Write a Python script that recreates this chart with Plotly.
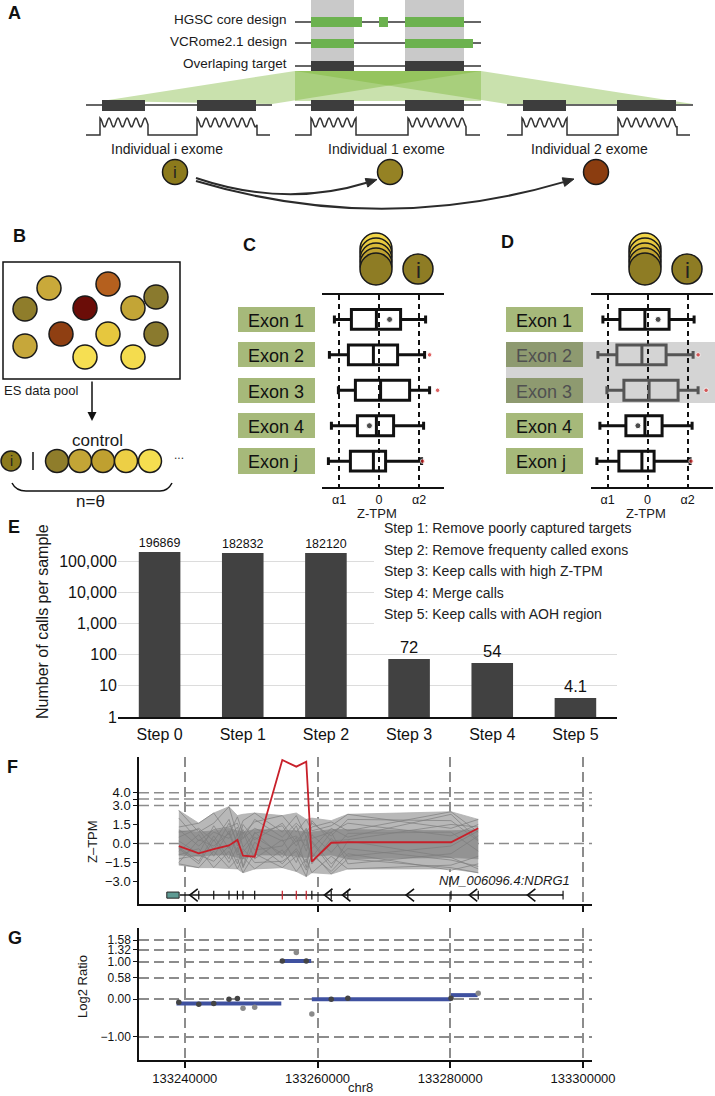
import math
import plotly.graph_objects as go

W, H = 715, 1096
FONT = "Liberation Sans, Arial, Helvetica, sans-serif"

# ---------------- Panel E data ----------------
e_steps = ["Step 0", "Step 1", "Step 2", "Step 3", "Step 4", "Step 5"]
e_calls = [196869, 182832, 182120, 72, 54, 4.1]
e_labels = ["196869", "182832", "182120", "72", "54", "4.1"]
e_tickvals = [1, 10, 100, 1000, 10000, 100000, 1000000]
e_ticktext = ["1", "10", "100", "1,000", "10,000", "100,000", ""]
e_legend = ["Step 1: Remove poorly captured targets",
            "Step 2: Remove frequenty called exons",
            "Step 3: Keep calls with high Z-TPM",
            "Step 4: Merge calls",
            "Step 5: Keep calls with AOH region"]

# ---------------- Panels C / D data ----------------
exon_names = ["Exon 1", "Exon 2", "Exon 3", "Exon 4", "Exon j"]
box_low = [-2.23, -2.48, -2.03, -2.38, -2.53]
box_q1 = [-1.38, -1.53, -1.18, -1.08, -1.43]
box_med = [-0.13, -0.28, 0.08, -0.13, -0.28]
box_q3 = [1.08, 0.93, 1.53, 0.73, 0.33]
box_high = [2.33, 2.28, 2.53, 2.23, 2.13]
sample_i = [0.53, 2.53, 2.93, -0.48, 2.18]
alpha_vals = [-2, 0, 2]
alpha_text = ["α1", "0", "α2"]
alpha2 = 2

# ---------------- Panel F data ----------------
exon_pos = [133239100, 133242105, 133244360, 133246660, 133247925, 133248770, 133250530,
            133254690, 133256800, 133258300, 133259140, 133262060, 133264560, 133280110, 133284210]
red_z = [-0.2, -0.77, -0.45, -0.15, 0.28, -0.96, -1.04, 6.57, 6.05, 6.44, -1.43, 0.06, 0.1, 0.1, 1.2]
gray_hi = [2.6, 1.6, 2.4, 2.9, 2.2, 2.3, 2.4, 2.2, 2.4, 1.9, 2.0, 1.8, 2.3, 2.5, 1.9]
gray_lo = [-1.7, -1.9, -1.9, -2.0, -2.0, -2.3, -2.0, -1.9, -2.2, -2.6, -2.3, -2.4, -2.0, -2.0, -2.3]
dense_hi = [1.0, 0.9, 1.0, 1.2, 1.0, 0.9, 1.1, 1.0, 1.0, 0.9, 0.9, 1.1, 1.1, 1.0, 1.1]
dense_lo = [-0.9, -1.0, -0.9, -0.9, -1.1, -1.2, -0.9, -0.9, -1.0, -1.1, -1.0, -0.9, -1.2, -1.1, -1.2]
gray_lines = [
    [2.6, 0.9, 1.6, 2.9, 0.6, 1.8, 2.4, 0.9, 2.2, 0.5, 1.3, 1.7, 1.0, 2.5, 0.9],
    [-1.6, -1.9, -0.6, -1.9, -1.2, -2.3, -0.8, -1.9, -1.0, -2.6, -0.7, -2.4, -1.2, -1.9, -2.3],
    [1.3, 1.6, 2.4, 0.7, 2.1, 0.8, 1.7, 2.2, 0.9, 1.9, 1.0, 1.4, 2.3, 1.2, 1.9],
    [-0.9, -0.4, -1.9, -0.6, -2.0, -1.1, -2.0, -0.5, -2.2, -1.2, -2.3, -1.0, -2.0, -1.7, -1.0],
    [0.5, 1.2, 0.2, 1.9, -0.2, 1.5, 0.3, 1.6, 0.1, 1.2, 0.4, 0.9, 1.6, 0.6, 1.5],
    [-0.3, -1.4, 0.6, -1.2, 0.8, -1.8, 0.9, -1.1, 0.5, -1.9, 0.2, -1.6, -0.4, -1.3, -1.8],
    [2.0, 0.2, 1.1, 1.3, 1.6, 0.4, 1.9, 0.5, 1.6, 0.8, 1.6, 0.6, 1.9, 1.8, 0.2],
    [-1.2, -0.9, -1.4, -0.2, -1.6, -0.4, -1.5, -1.4, -0.6, -2.1, -0.9, -2.2, -0.8, -2.1, -1.6],
    [1.1, -0.2, 0.9, 0.4, 1.3, -0.3, 0.8, 1.4, -0.2, 1.1, -0.4, 1.2, 0.5, 2.3, 0.3],
    [-0.6, 0.7, -1.0, 1.0, -0.7, 0.9, -1.2, 0.3, -1.5, 0.6, -1.6, 0.4, -1.0, -0.2, 1.0],
    [0.2, -0.8, 1.4, -0.4, 0.3, 1.1, -0.5, -0.2, 1.4, -0.6, 0.7, -0.7, 0.8, 0.9, -0.6],
    [-1.5, 0.3, -0.2, 0.8, -0.9, -0.7, 0.5, -0.8, 0.2, 0.3, -1.1, 0.9, -1.6, -0.8, 0.6],
    [0.9, 1.1, -0.5, 1.6, 0.1, 0.4, 1.2, 0.2, 0.6, -0.2, 1.8, 0.2, 0.3, 1.5, 1.3],
    [-0.4, -1.6, 0.3, -1.5, -0.3, -1.9, 0.1, -1.6, -0.4, -1.5, 0.1, -1.9, 0.2, -1.1, -2.0],
]
f_thresholds = [4.0, 3.5, 3.0, 0.0]
f_yticks = [-3.0, -1.5, 0.0, 1.5, 3.0, 3.5, 4.0]
f_yticktext = ["−3.0", "−1.5", "0.0", "1.5", "3.0", "", "4.0"]
chr_ticks = [133240000, 133260000, 133280000, 133300000]
chr_ticktext = ["133240000", "133260000", "133280000", "133300000"]
called_exons = [7, 8, 9]
gene_start, gene_end = 133239250, 133296990
utr_start, utr_end = 133237290, 133239145
strand_arrows = [133240750, 133261050, 133263760, 133273340, 133282860, 133291620]
gene_label = "NM_006096.4:NDRG1"

# ---------------- Panel G data ----------------
log2_pos = exon_pos
log2_ratio = [-0.08, -0.13, -0.11, 0.0, 0.02, -0.24, -0.21, 1.02, 1.25, 1.02, -0.39, 0.0, 0.03, 0.03, 0.16]
seg_start = [133238750, 133254390, 133259140, 133280100]
seg_end = [133254540, 133259040, 133280100, 133284110]
seg_value = [-0.11, 1.02, 0.0, 0.11]
g_yticks = [-1.00, 0.00, 0.58, 1.00, 1.32, 1.58]
g_yticktext = ["−1.00", "0.00", "0.58", "1.00", "1.32", "1.58"]


def xd(a, b):
    return [a / W, b / W]


def yd(top, bottom):
    return [1 - bottom / H, 1 - top / H]


shapes = []
ann = []


def rect(x0, y0, x1, y1, fill, line=None, lw=0, layer='above'):
    shapes.append(dict(type='rect', xref='x', yref='y', x0=x0, y0=y0, x1=x1, y1=y1,
                       fillcolor=fill, line=dict(color=line or fill, width=lw), layer=layer))


def seg(x0, y0, x1, y1, color='#333333', w=1.5, layer='above'):
    shapes.append(dict(type='line', xref='x', yref='y', x0=x0, y0=y0, x1=x1, y1=y1,
                       line=dict(color=color, width=w), layer=layer))


def circle(cx, cy, r, fill, lw=1.5, layer='above'):
    shapes.append(dict(type='circle', xref='x', yref='y', x0=cx - r, x1=cx + r, y0=cy - r, y1=cy + r,
                       fillcolor=fill, line=dict(color='#1a1a1a', width=lw), layer=layer))


def path(d, color='#333333', w=1.5, fill='rgba(0,0,0,0)', layer='above'):
    shapes.append(dict(type='path', xref='x', yref='y', path=d,
                       line=dict(color=color, width=w), fillcolor=fill, layer=layer))


def text(x, y, s, size=13, color='#1a1a1a', xanchor='center', yanchor='middle', angle=0):
    ann.append(dict(xref='x', yref='y', x=x, y=y, text=s, showarrow=False, xanchor=xanchor,
                    yanchor=yanchor, textangle=angle, font=dict(family=FONT, size=size, color=color)))


def curved_arrow(p0, c, p1, head=11, hw=4.5, color='#2b2b2b'):
    dx, dy = p1[0] - c[0], p1[1] - c[1]
    L = math.hypot(dx, dy)
    ux, uy = dx / L, dy / L
    bx, by = p1[0] - head * ux, p1[1] - head * uy
    path(f"M {p0[0]},{p0[1]} Q {c[0]},{c[1]} {bx:.1f},{by:.1f}", color=color, w=2)
    px, py = -uy, ux
    path(f"M {p1[0]},{p1[1]} L {bx + hw * px:.1f},{by + hw * py:.1f} L {bx - hw * px:.1f},{by - hw * py:.1f} Z",
         color=color, w=1, fill=color)


def wave(x0, x1, x2, x3, x4, x5, base=135, top=118, low=127, period=9.0):
    mid, amp = (top + low) / 2, (low - top) / 2
    d = f"M {x0},{base} L {x1},{base} L {x1},{top}"
    for a, b in ((x1, x2), (x3, x4)):
        if a != x1:
            d += f" L {a},{base} L {a},{top}"
        x = a
        while x <= b:
            y = mid - amp * math.cos(2 * math.pi * (x - a) / period)
            d += f" L {x:.1f},{y:.1f}"
            x += 1
        d += f" L {b},{base}"
    d += f" L {x5},{base}"
    path(d, color='#333333', w=1.5)


def label(x, y, s):
    text(x, y, f"<b>{s}</b>", size=18, color='#111111', xanchor='left')


# ================= Panel A =================
label(6, 13, "A")
GREEN = '#6cb24f'
DARK = '#3d3d3d'
FAN = 'rgba(120,180,50,0.40)'
rect(311, 0, 354, 61, '#c9c9c9', layer='below')
rect(405, 0, 464, 61, '#c9c9c9', layer='below')
path("M 295,71 L 481,71 L 272,104 L 102,101 Z", color='rgba(0,0,0,0)', w=0, fill=FAN, layer='below')
path("M 295,71 L 481,71 L 481,101 L 295,101 Z", color='rgba(0,0,0,0)', w=0, fill=FAN, layer='below')
path("M 295,71 L 481,71 L 693,104 L 507,104 Z", color='rgba(0,0,0,0)', w=0, fill=FAN, layer='below')
for yy in (22, 43, 66):
    seg(295, yy, 481, yy)
rect(311, 17, 362, 27, GREEN)
rect(379, 17, 388, 27, GREEN)
rect(405, 17, 464, 27, GREEN)
rect(311, 39, 354, 48, GREEN)
rect(405, 39, 473, 48, GREEN)
rect(311, 61, 354, 71, DARK)
rect(405, 61, 464, 71, DARK)
text(289, 19, "HGSC core design", size=13.5, xanchor='right')
text(289, 41, "VCRome2.1 design", size=13.5, xanchor='right')
text(289, 63, "Overlaping target", size=13.5, xanchor='right')
for (l0, l1, bars) in ((86, 272, ((102, 145), (197, 256))),
                       (295, 481, ((311, 354), (405, 464))),
                       (507, 693, ((523, 566), (617, 676)))):
    seg(l0, 105, l1, 105)
    for b0, b1 in bars:
        rect(b0, 100, b1, 111, DARK)
wave(86, 100, 148, 197, 257, 270)
wave(295, 311, 356, 408, 466, 480)
wave(507, 522, 567, 618, 677, 690)
text(167, 149, "Individual i exome", size=14)
text(386, 149, "Individual 1 exome", size=14)
text(589, 149, "Individual 2 exome", size=14)
circle(175, 172, 12.5, '#8c7a1c')
text(175, 172, "i", size=17, color='#222222')
circle(390, 172, 12.5, '#958224')
circle(596, 172, 12.5, '#8b3d10')
curved_arrow((196, 178), (285, 208), (377, 179.5))
curved_arrow((196, 181), (380, 236), (574, 179))

# ================= Panel B =================
label(11, 236, "B")
rect(3, 262, 180, 379, 'rgba(0,0,0,0)', line='#111111', lw=1.5)
pool = [(49, 288, '#c9a93a'), (108, 284, '#b5601e'), (25, 309, '#8f7d2b'), (85, 308, '#6b0d08'),
        (133, 308, '#c3a536'), (156, 297, '#8a7a2e'), (61, 334, '#8f3f12'), (108, 334, '#e6c73e'),
        (156, 334, '#8a7a2e'), (25, 346, '#c6a73a'), (85, 357, '#f6df52'), (133, 357, '#f4dc4e')]
for cx, cy, col in pool:
    circle(cx, cy, 12, col)
text(2, 390, "ES data pool", size=13, xanchor='left')
ann.append(dict(xref='x', yref='y', x=92, y=421, ax=92, ay=380, axref='x', ayref='y', text='',
                showarrow=True, arrowhead=2, arrowsize=1.2, arrowwidth=1.5, arrowcolor='#111111'))
text(97, 440, "control", size=17)
circle(11, 461, 10, '#8c7a1c')
text(11, 461, "i", size=14, color='#222222')
seg(33, 452, 33, 470, color='#111111', w=1.5)
for cx, col in zip([57, 80, 103, 126, 150], ['#8f7d2b', '#c3a536', '#bfa030', '#edcf45', '#f5de50']):
    circle(cx, 461, 11.5, col)
text(179, 455, "...", size=12, color='#333333')
path("M 12,483 Q 16,491 26,491 L 160,491 Q 168,491 172,483", color='#111111', w=1.5)
text(90, 501, "n=θ", size=17)

# ================= Panels C & D decoration =================
label(241, 245, "C")
label(499, 242, "D")
row_y = [(307, 332), (342, 367), (378, 403), (413, 438), (448, 474)]
rect(506, 342, 715, 403, '#d4d4d4', layer='below')
for panel_left, hl in ((238, False), (506, True)):
    for k, (y0, y1) in enumerate(row_y):
        grey = hl and k in (1, 2)
        rect(panel_left, y0, panel_left + 77, y1, '#8e9a70' if grey else '#a6b97a', layer='below')
        text(panel_left + 8, (y0 + y1) / 2 + 1, exon_names[k], size=18,
             color='#505050' if grey else '#111111', xanchor='left')
stack_cols = ['#f2d648', '#e9cb40', '#d9ba38', '#bfa231', '#8e7c24']
for cx, icx in ((376, 418), (645, 687)):
    for j, col in enumerate(stack_cols):
        circle(cx, 249 + 5 * j, 16, col)
    circle(icx, 269, 15, '#8e7c24')
    text(icx, 270, "i", size=22, color='#222222')
text(377, 513, "Z-TPM", size=13)
text(646, 513, "Z-TPM", size=13)

# ================= Panel E decoration =================
label(6, 527, "E")
rect(374, 518, 660, 627, '#ffffff', layer='above')
for k, s in enumerate(e_legend):
    text(382, 528 + 21.6 * k, s, size=14, color='#222222', xanchor='left')
text(42, 622, "Number of calls per sample", size=16, angle=-90)

# ================= Panels F/G decoration =================
label(5, 767, "F")
label(6, 938, "G")
text(92, 842, "Z–TPM", size=13, angle=-90)
text(82, 987, "Log2 Ratio", size=13, angle=-90)
text(360, 1087, "chr8", size=13)
text(572, 880, f"<i>{gene_label}</i>", size=13, xanchor='right')

fig = go.Figure()

# ---- C & D boxes ----
ypos = list(range(len(exon_names)))
for ax_x, ax_y, hl in (('x2', 'y2', False), ('x3', 'y3', True)):
    for k in ypos:
        col = '#555555' if (hl and k in (1, 2)) else '#111111'
        fig.add_trace(go.Box(y=[k], q1=[box_q1[k]], median=[box_med[k]], q3=[box_q3[k]],
                             lowerfence=[box_low[k]], upperfence=[box_high[k]], orientation='h',
                             line=dict(color=col, width=3), fillcolor='rgba(0,0,0,0)',
                             whiskerwidth=0.4, width=0.56, xaxis=ax_x, yaxis=ax_y,
                             hoverinfo='skip', showlegend=False))
    fig.add_trace(go.Scatter(x=sample_i, y=ypos, mode='markers', xaxis=ax_x, yaxis=ax_y,
                             marker=dict(size=[6 if v <= alpha2 else 4.5 for v in sample_i],
                                         color=['#000000' if v <= alpha2 else '#d22020' for v in sample_i]),
                             hoverinfo='skip', showlegend=False))

# ---- E bars ----
fig.add_trace(go.Bar(x=e_steps, y=e_calls, text=e_labels, textposition='outside',
                     textfont=dict(family=FONT, size=16.5, color='#111111'),
                     marker=dict(color='#414141', line=dict(width=0)), width=0.5,
                     xaxis='x4', yaxis='y4', cliponaxis=False, hoverinfo='skip', showlegend=False))

# ---- F ----
fig.add_trace(go.Scatter(x=exon_pos, y=gray_hi, mode='lines', line=dict(color='#b0b0b0', width=0.8),
                         xaxis='x5', yaxis='y5', hoverinfo='skip', showlegend=False))
fig.add_trace(go.Scatter(x=exon_pos, y=gray_lo, mode='lines', line=dict(color='#b0b0b0', width=0.8),
                         fill='tonexty', fillcolor='#b8b8b8', xaxis='x5', yaxis='y5',
                         hoverinfo='skip', showlegend=False))
fig.add_trace(go.Scatter(x=exon_pos, y=dense_hi, mode='lines', line=dict(color='#939393', width=0.8),
                         xaxis='x5', yaxis='y5', hoverinfo='skip', showlegend=False))
fig.add_trace(go.Scatter(x=exon_pos, y=dense_lo, mode='lines', line=dict(color='#939393', width=0.8),
                         fill='tonexty', fillcolor='#939393', xaxis='x5', yaxis='y5',
                         hoverinfo='skip', showlegend=False))
for gl in gray_lines:
    fig.add_trace(go.Scatter(x=exon_pos, y=gl, mode='lines',
                             line=dict(color='rgba(125,125,125,0.7)', width=1),
                             xaxis='x5', yaxis='y5', hoverinfo='skip', showlegend=False))
fig.add_trace(go.Scatter(x=exon_pos, y=red_z, mode='lines', line=dict(color='#c8202a', width=1.8),
                         xaxis='x5', yaxis='y5', hoverinfo='skip', showlegend=False))

TRACK = -4.06
TK = 0.35
AH, AW = 0.5, 1200
fig.add_trace(go.Scatter(x=[gene_start, gene_end], y=[TRACK, TRACK], mode='lines',
                         line=dict(color='#111111', width=1.5), xaxis='x5', yaxis='y5',
                         hoverinfo='skip', showlegend=False))
bx, by, rx, ry = [], [], [], []
for k, p in enumerate(exon_pos[1:], start=1):
    if k in called_exons:
        rx += [p, p, None]
        ry += [TRACK - TK, TRACK + TK, None]
    else:
        bx += [p, p, None]
        by += [TRACK - TK, TRACK + TK, None]
bx += [gene_end, gene_end, None]
by += [TRACK - TK, TRACK + TK, None]
fig.add_trace(go.Scatter(x=bx, y=by, mode='lines', line=dict(color='#111111', width=1.2),
                         xaxis='x5', yaxis='y5', hoverinfo='skip', showlegend=False))
fig.add_trace(go.Scatter(x=rx, y=ry, mode='lines', line=dict(color='#c8202a', width=1.2),
                         xaxis='x5', yaxis='y5', hoverinfo='skip', showlegend=False))
ax_, ay_ = [], []
for p in strand_arrows:
    ax_ += [p + AW, p, p + AW, None]
    ay_ += [TRACK + AH, TRACK, TRACK - AH, None]
fig.add_trace(go.Scatter(x=ax_, y=ay_, mode='lines', line=dict(color='#111111', width=1.6),
                         xaxis='x5', yaxis='y5', hoverinfo='skip', showlegend=False))

# ---- G ----
sx, sy = [], []
for s0, s1, v in zip(seg_start, seg_end, seg_value):
    sx += [s0, s1, None]
    sy += [v, v, None]
fig.add_trace(go.Scatter(x=sx, y=sy, mode='lines', line=dict(color='#3f51a0', width=4),
                         xaxis='x6', yaxis='y6', hoverinfo='skip', showlegend=False))
pt_cols = ['#444444', '#444444', '#444444', '#444444', '#444444', '#8a8a8a', '#8a8a8a',
           '#444444', '#8a8a8a', '#444444', '#8a8a8a', '#444444', '#444444', '#444444', '#8a8a8a']
fig.add_trace(go.Scatter(x=log2_pos, y=log2_ratio, mode='markers',
                         marker=dict(size=5.5, color=pt_cols), xaxis='x6', yaxis='y6',
                         hoverinfo='skip', showlegend=False))

# threshold dashed lines in F
for v in f_thresholds:
    shapes.append(dict(type='line', xref='x5 domain', yref='y5', x0=0, x1=1, y0=v, y1=v,
                       line=dict(color='#8c8c8c', width=1.5, dash='10px,5px'), layer='below'))
shapes.append(dict(type='rect', xref='x5', yref='y5', x0=utr_start, x1=utr_end,
                   y0=TRACK - 0.24, y1=TRACK + 0.24, fillcolor='#5e9a93',
                   line=dict(color='#222222', width=1), layer='above'))

tick_font = dict(family=FONT, size=13, color='#111111')
cd_axis = dict(tickvals=alpha_vals, ticktext=alpha_text, showline=True, mirror=True, linewidth=2,
               linecolor='#111111', showgrid=True, gridcolor='#111111', griddash='5px,4px',
               gridwidth=1.5, zeroline=False, ticks='', ticklabelstandoff=0,
               tickfont=dict(family=FONT, size=12.5, color='#111111'),
               fixedrange=True, automargin=False)
chr_axis = dict(range=[133233100, 133301350], tickvals=chr_ticks, ticktext=chr_ticktext,
                ticks='outside', ticklen=6, tickwidth=1.5, tickcolor='#111111', showline=True,
                linewidth=1.5, linecolor='#111111', showgrid=True, gridcolor='#8c8c8c',
                griddash='10px,5px', gridwidth=1.5, zeroline=False, tickfont=tick_font,
                automargin=False)

fig.update_layout(
    width=W, height=H, margin=dict(l=0, r=0, t=0, b=0, pad=0, autoexpand=False), autosize=False,
    paper_bgcolor='white', plot_bgcolor='rgba(0,0,0,0)', showlegend=False,
    boxmode='overlay', font=dict(family=FONT, color='#111111'),
    xaxis=dict(domain=[0, 1], range=[0, W], visible=False, fixedrange=True, automargin=False),
    yaxis=dict(domain=[0, 1], range=[H, 0], visible=False, fixedrange=True, automargin=False),
    xaxis2=dict(domain=xd(322, 444), anchor='y2', range=[-2.85, 3.25], **cd_axis),
    yaxis2=dict(domain=yd(295, 487), anchor='x2', range=[4.73, -0.69], visible=False, automargin=False),
    xaxis3=dict(domain=xd(591, 713), anchor='y3', range=[-2.825, 3.275], **cd_axis),
    yaxis3=dict(domain=yd(295, 487), anchor='x3', range=[4.73, -0.69], visible=False, automargin=False),
    xaxis4=dict(domain=xd(118, 617), anchor='y4', type='category', range=[-0.5, 5.5],
                showline=True, linecolor='#111111', linewidth=1.5, ticks='', showgrid=False,
                tickfont=dict(family=FONT, size=16, color='#111111'), ticklabelstandoff=2,
                automargin=False),
    yaxis4=dict(domain=yd(530, 717), anchor='x4', type='log', range=[0, 6], tickvals=e_tickvals,
                ticktext=e_ticktext, showgrid=True, gridcolor='#dcdcdc', gridwidth=1,
                showline=False, ticks='', zeroline=False, automargin=False,
                tickfont=dict(family=FONT, size=16, color='#111111')),
    xaxis5=dict(domain=xd(139, 592), anchor='y5', showticklabels=False, **chr_axis),
    yaxis5=dict(domain=yd(757, 904), anchor='x5', range=[-4.76, 6.81], tickvals=f_yticks,
                ticktext=f_yticktext, ticks='outside', ticklen=4, tickcolor='#111111',
                showline=True, linewidth=1.5, linecolor='#111111', showgrid=False,
                zeroline=False, tickfont=tick_font, automargin=False),
    xaxis6=dict(domain=xd(139, 592), anchor='y6', showticklabels=True, **chr_axis),
    yaxis6=dict(domain=yd(928, 1060), anchor='x6', range=[-1.62, 1.90], tickvals=g_yticks,
                ticktext=g_yticktext, ticks='outside', ticklen=4, tickcolor='#111111',
                showline=True, linewidth=1.5, linecolor='#111111', showgrid=True,
                gridcolor='#8c8c8c', griddash='10px,5px', gridwidth=1.5, zeroline=False,
                tickfont=dict(family=FONT, size=12, color='#111111'), automargin=False),
    shapes=shapes, annotations=ann,
)

fig.write_html("out.html", config={'displayModeBar': False},
               post_script="document.body.style.margin='0';")
